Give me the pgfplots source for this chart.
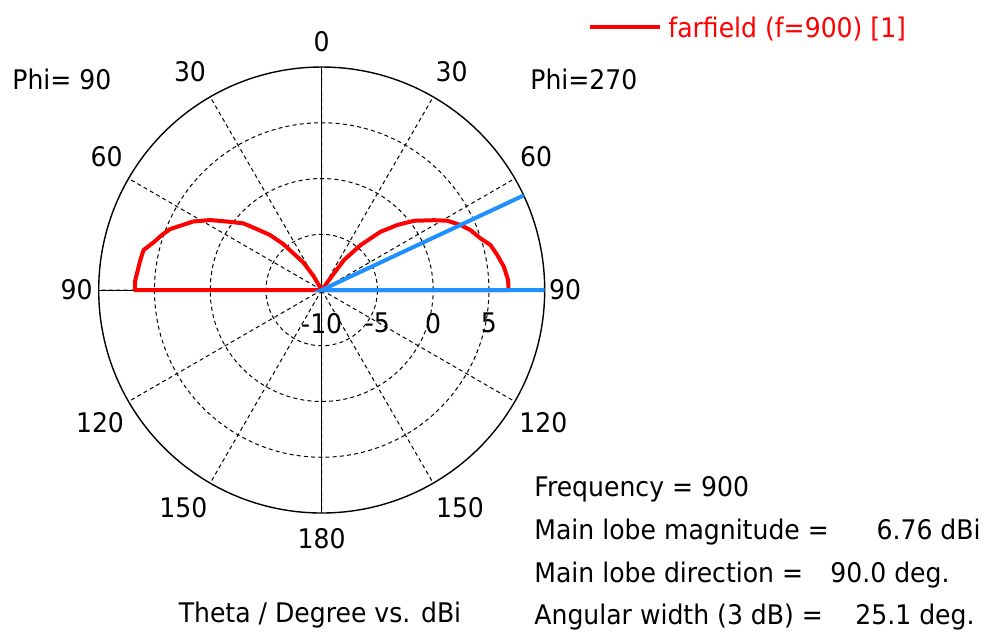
\documentclass[border=0pt]{standalone}
\usepackage{fontspec}
\setmainfont{DejaVu Sans}[FakeStretch=0.93]
\usepackage{pgfplots}
\pgfplotsset{compat=1.18}
\usepgfplotslibrary{polar}
\definecolor{cstblue}{RGB}{30,144,255}
\newcommand{\fs}{\fontsize{13.5pt}{16pt}\selectfont}
\begin{document}
\begin{tikzpicture}
\useasboundingbox (0,0) rectangle (500pt,-317pt);
\begin{polaraxis}[
  at={(160.85pt,-145pt)}, anchor=center,
  scale only axis, width=223pt, height=223pt,
  xmin=0, xmax=360, ymin=0, ymax=20,
  xtick={0,30,...,330}, ytick={5,10,15},
  xticklabels={}, yticklabels={},
  major tick length=0pt,
  grid=major,
  major grid style={black, line width=0.5pt, dash pattern=on 2pt off 1.6pt},
  axis line style={black, line width=0.7pt},
  clip=false,
]
\draw[black, line width=0.5pt] (axis cs:0,20) -- (axis cs:180,20);
\draw[black, line width=0.5pt] (axis cs:90,20) -- (axis cs:270,20);
% Phi = 90 (left half), angle = 90 + theta, radius = dBi + 10
\addplot[no marks, red, line width=2pt, line join=round] coordinates {
 (119,0) (120.4,1.49) (123.7,2.97) (129.9,5.37) (133.2,6.77) (136.8,7.98)
 (139.6,9.22) (144.2,10.50) (147.9,11.81) (151.9,13.05) (158.1,14.65)
 (161.0,15.16) (164.2,15.68) (167.4,16.38) (170.8,16.49) (177.1,16.75)
 (180,16.76) (180,0)
};
% Phi = 270 (right half), angle = 90 - theta
\addplot[no marks, red, line width=2pt, line join=round] coordinates {
 (54,0) (53.6,1.85) (53.4,3.35) (49.1,5.33) (44.7,7.43) (40.7,8.94)
 (36.9,10.34) (31.9,11.85) (28.9,12.86) (25.1,13.75) (21.9,14.39)
 (18.0,14.98) (14.9,15.67) (11.3,16.05) (7.3,16.47) (3.1,16.74)
 (0,16.76) (0,0)
};
% 3 dB beam-width markers
\addplot[no marks, cstblue, line width=2pt] coordinates {(0,20) (0,0) (25.1,20)};
% radial labels
\node[font=\fs, inner sep=0pt, yshift=-16.65pt] at (axis cs:0,0) {-10};
\node[font=\fs, inner sep=0pt, yshift=-16.65pt] at (axis cs:0,5) {-5};
\node[font=\fs, inner sep=0pt, yshift=-16.65pt] at (axis cs:0,10) {0};
\node[font=\fs, inner sep=0pt, yshift=-16.65pt] at (axis cs:0,15) {5};
\end{polaraxis}
% angle labels
\begin{scope}[every node/.style={font=\fs, inner sep=0pt, anchor=center}]
\node at (160.85pt,-20.85pt) {0};
\node at (95pt,-35.85pt) {30};
\node at (225.85pt,-35.85pt) {30};
\node at (53.35pt,-78.35pt) {60};
\node at (268pt,-78.35pt) {60};
\node at (38.35pt,-145pt) {90};
\node at (282.5pt,-145pt) {90};
\node at (50pt,-211.15pt) {120};
\node at (271.65pt,-211.15pt) {120};
\node at (91.65pt,-253.65pt) {150};
\node at (230pt,-253.65pt) {150};
\node at (160.85pt,-269.15pt) {180};
\end{scope}
\begin{scope}[every node/.style={font=\fs, inner sep=0pt}]
\node[anchor=base west] at (6pt,-44.9pt) {Phi= 90};
\node[anchor=base west] at (265pt,-44.9pt) {Phi=270};
\draw[red, line width=2pt] (295pt,-13.5pt) -- (330pt,-13.5pt);
\node[anchor=base west, text=red] at (334pt,-18.9pt) {farfield (f=900) [1]};
\node[anchor=base] at (160pt,-311pt) {Theta / Degree vs. dBi};
\node[anchor=base west] at (267pt,-248pt) {Frequency = 900};
\node[anchor=base west] at (267pt,-269.5pt) {Main lobe magnitude =};
\node[anchor=base east] at (490.5pt,-269.5pt) {6.76 dBi};
\node[anchor=base west] at (267pt,-291pt) {Main lobe direction =};
\node[anchor=base east] at (475pt,-291pt) {90.0 deg.};
\node[anchor=base west] at (267pt,-312pt) {Angular width (3 dB) =};
\node[anchor=base east] at (487.5pt,-312pt) {25.1 deg.};
\end{scope}
\end{tikzpicture}
\end{document}
